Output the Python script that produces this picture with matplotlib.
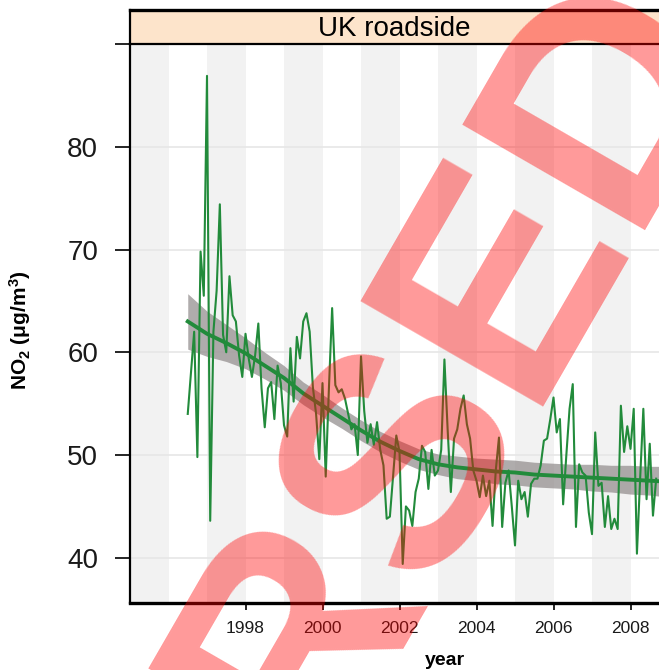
import numpy as np
import matplotlib
matplotlib.use("Agg")
from matplotlib import pyplot

pyplot.rcParams['font.family'] = ['Liberation Sans', 'DejaVu Sans']
pyplot.rcParams['mathtext.default'] = 'regular'

# -----------------------------------------------------------------------------
# monthly mean NO2, UK roadside sites, starting July 1996
start_year = 1996.5
no2 = [54.0, 58.0, 62.0, 49.8, 69.8, 65.5, 86.9, 43.6, 62.0, 66.0, 74.4, 61.7,
       60.0, 67.4, 63.6, 63.0, 59.7, 57.6, 61.8, 59.4, 57.6, 59.7, 62.8, 56.5,
       52.7, 56.5, 57.1, 53.5, 58.7, 57.0, 52.9, 51.8, 60.4, 55.2, 61.5, 59.4,
       63.0, 63.8, 62.0, 56.6, 54.0, 49.6, 57.0, 47.9, 56.5, 64.3, 56.8, 56.1,
       56.4, 55.5, 54.0, 52.5, 53.0, 50.0, 59.6, 54.3, 51.2, 53.0, 51.0, 53.2,
       50.5, 49.0, 43.8, 44.0, 48.0, 51.9, 50.3, 39.4, 45.0, 44.6, 43.1, 46.4,
       47.7, 50.9, 50.3, 46.7, 50.5, 48.0, 48.5, 50.5, 59.3, 52.5, 46.4, 51.6,
       52.5, 54.5, 55.8, 53.0, 51.6, 48.5, 47.5, 45.9, 48.0, 46.0, 47.5, 43.1,
       48.5, 51.7, 43.0, 47.3, 48.5, 45.0, 41.2, 47.5, 45.7, 46.4, 44.0, 47.2,
       47.7, 47.7, 49.0, 51.4, 51.6, 53.5, 55.6, 52.2, 53.5, 45.2, 50.0, 54.5,
       56.9, 43.0, 49.1, 48.3, 48.0, 44.4, 42.3, 52.2, 47.0, 47.3, 43.0, 46.0,
       42.8, 43.8, 42.8, 54.8, 50.3, 52.8, 50.6, 54.5, 40.4, 47.7, 54.5, 45.7,
       51.1, 44.1, 47.7]

# smooth trend with its confidence band, read every half year
trend_year = [1996.5, 1997.0, 1997.5, 1998.0, 1998.5, 1999.0, 1999.5, 2000.0,
              2000.5, 2001.0, 2001.5, 2002.0, 2002.5, 2003.0, 2003.5, 2004.0,
              2004.5, 2005.0, 2005.5, 2006.0, 2006.5, 2007.0, 2007.5, 2008.0,
              2008.5, 2009.0]
trend_fit = [63.0, 61.8, 60.9, 59.9, 58.7, 57.5, 56.0, 54.8, 53.6, 52.4, 51.3,
             50.4, 49.6, 49.1, 48.8, 48.6, 48.4, 48.3, 48.1, 48.0, 47.9, 47.8,
             47.7, 47.6, 47.5, 47.4]
trend_err = [2.7, 2.2, 1.8, 1.5, 1.3, 1.2, 1.1, 1.1, 1.0, 1.0, 1.0, 1.0, 1.0,
             1.0, 1.1, 1.1, 1.2, 1.2, 1.2, 1.2, 1.2, 1.3, 1.3, 1.4, 1.4, 1.5]

shaded_years = [1995, 1997, 1999, 2001, 2003, 2005, 2007]
year_ticks = [1998, 2000, 2002, 2004, 2006, 2008]
no2_ticks = [40, 50, 60, 70, 80, 90]
no2_labels = ['40', '50', '60', '70', '80', '']

panel_title = 'UK roadside'
stamp = 'SUPERSEDED'

line_col = '#228B3B'

# -----------------------------------------------------------------------------
fig = pyplot.figure(figsize=(6.59, 6.70), dpi=100)
ax = fig.add_axes([130/659, 67/670, 529/659, 559/670])

ax.set_xlim(1995.0, 2008.74)
ax.set_ylim(35.6, 90.0)

for yr in shaded_years:
    ax.axvspan(yr, yr + 1, color='#f2f2f2', lw=0, zorder=0)
for v in no2_ticks[:-1]:
    ax.axhline(v, color='#e6e6e6', lw=1.2, zorder=1)

t = np.array(trend_year)
fit = np.array(trend_fit)
err = np.array(trend_err)
ax.fill_between(t, fit - err, fit + err, color='#959090', alpha=0.75,
                lw=0, zorder=2)

x = start_year + np.arange(len(no2)) / 12.0
ax.plot(x, no2, color=line_col, lw=1.5, zorder=3)
ax.plot(t, fit, color=line_col, lw=2.8, zorder=4)

ax.set_xticks(year_ticks)
ax.set_xticklabels([str(y) for y in year_ticks], fontsize=12.5, color='#1a1a1a')
ax.set_yticks(no2_ticks)
ax.set_yticklabels(no2_labels, fontsize=20, color='#1a1a1a')
ax.tick_params(axis='x', direction='out', length=5, width=1.2, pad=8)
ax.tick_params(axis='y', direction='out', length=11, width=1.2, pad=12)

for side in ['top', 'right']:
    ax.spines[side].set_visible(False)
ax.spines['left'].set_linewidth(1.6)
ax.spines['bottom'].set_linewidth(2.4)

ax.set_xlabel('year', fontsize=14, fontweight='bold')
ax.xaxis.set_label_coords(0.5955, -0.088)
ax.set_ylabel('NO$_2$ (\u03bcg/m$^3$)', fontsize=15, fontweight='bold')
ax.yaxis.set_label_coords(-0.183, 0.488)

# strip above the panel
strip = fig.add_axes([130/659, 626/670, 529/659, 34/670])
strip.set_facecolor('#fde4cb')
strip.set_xticks([])
strip.set_yticks([])
strip.spines['right'].set_visible(False)
for side in ['top', 'left', 'bottom']:
    strip.spines[side].set_linewidth(1.6)
strip.spines['top'].set_linewidth(2.4)
strip.text(0.5, 0.45, panel_title, ha='center', va='center', fontsize=20,
           transform=strip.transAxes)

# watermark
fig.text(428/659, 1 - 592/670, stamp, rotation=60, rotation_mode='anchor',
         ha='center', va='baseline', fontsize=220, fontweight='bold',
         color='red', alpha=0.4, zorder=10)

fig.savefig('out.png', dpi=100)
